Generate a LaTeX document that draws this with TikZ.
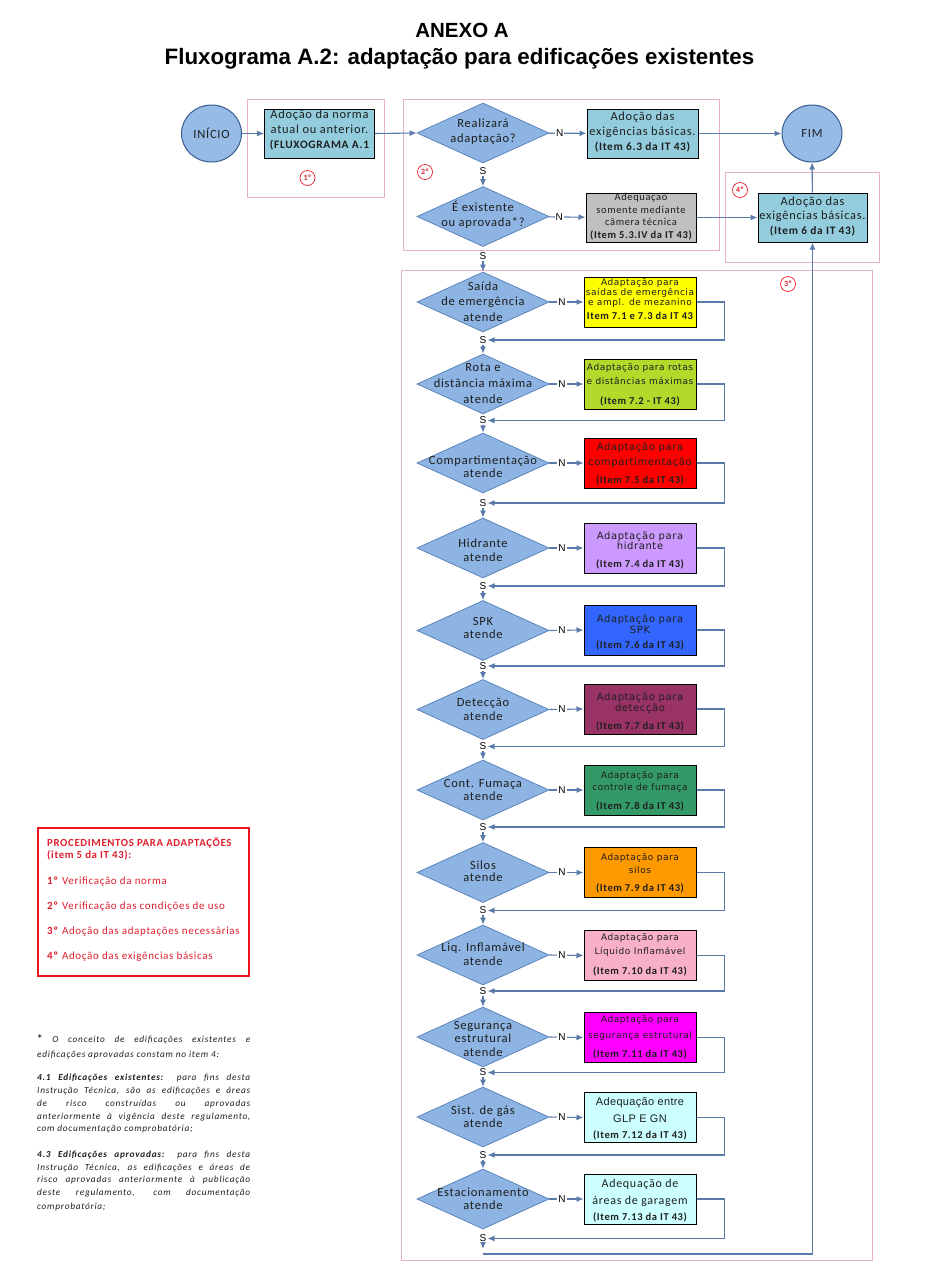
\documentclass[tikz,border=0pt]{standalone}
\usepackage{fontspec}
\setmainfont{Carlito}
\newfontfamily\cfont[LetterSpace=6]{Carlito}
\newfontfamily\vfont[LetterSpace=6]{DejaVu Sans}
\newfontfamily\afont[LetterSpace=3]{Liberation Sans}
\newfontfamily\tfont{Liberation Sans}
\newfontfamily\nfont[LetterSpace=8]{Carlito}
\usetikzlibrary{shapes.geometric,arrows.meta}
\definecolor{conncol}{HTML}{5A7BA9}
\definecolor{diafill}{HTML}{8DB4E2}
\definecolor{diaborder}{HTML}{5A84BD}
\definecolor{termfill}{HTML}{95BBE6}
\definecolor{termborder}{HTML}{3B5B8F}
\definecolor{topblue}{HTML}{93CDDD}
\definecolor{graybox}{HTML}{C0C0C0}
\definecolor{pinkcol}{HTML}{E8B0C8}
\definecolor{redcol}{HTML}{E0202F}
\definecolor{legred}{HTML}{E8141E}
\definecolor{txtcol}{HTML}{1E1E1E}
\definecolor{cA}{HTML}{FFFF00}
\definecolor{cB}{HTML}{B3D92B}
\definecolor{cC}{HTML}{FF0000}
\definecolor{cD}{HTML}{CC99FF}
\definecolor{cE}{HTML}{3366FF}
\definecolor{cF}{HTML}{993366}
\definecolor{cG}{HTML}{339966}
\definecolor{cH}{HTML}{FF9900}
\definecolor{cI}{HTML}{F8B0C8}
\definecolor{cJ}{HTML}{FF00FF}
\definecolor{cK}{HTML}{CCFFFF}
\newcommand\myfC{\cfont\fontsize{12.4}{15}\selectfont}
\newcommand\myfCs{\cfont\fontsize{10.5}{12}\selectfont}
\newcommand\myfCb{\cfont\bfseries\fontsize{11.4}{13}\selectfont}
\newcommand\myfB{\cfont\bfseries\fontsize{10.5}{12}\selectfont}
\newcommand\myfV{\vfont\fontsize{9}{10}\selectfont}
\newcommand\myfVb{\vfont\fontsize{10}{11}\selectfont}
\newcommand\myfA{\afont\fontsize{11}{13}\selectfont}
\newcommand\myfN{\nfont\itshape\fontsize{9.3}{12}\selectfont}
\newcommand\myfL{\cfont\fontsize{11}{13}\selectfont}
\newcommand\myfLb{\cfont\bfseries\fontsize{10.8}{12}\selectfont}
\newcommand\myfD[1]{\cfont\fontsize{12.5}{#1}\selectfont}
\newcommand\txtline[4]{\node[tl,font=#1] (#2) at (#3) {#4};}
\tikzset{
 conn/.style={draw=conncol, line width=1.1pt, -{Latex[length=7pt,width=6pt]}},
 dia/.style={diamond, draw=diaborder, fill=diafill, line width=0.8pt, minimum width=132pt, minimum height=60pt, inner sep=0pt},
 dtxt/.style={align=center, inner sep=0pt, text=txtcol},
 bx/.style={rectangle, draw=black, line width=1pt, minimum width=112pt, minimum height=50pt, inner sep=0pt},
 frame/.style={draw=pinkcol, line width=1pt},
 tl/.style={anchor=mid, inner sep=0pt, text=txtcol},
 lbl/.style={font=\afont\fontsize{10}{12}\selectfont, fill=white, inner sep=1pt, text=black},
 stp/.style={circle, draw=redcol, line width=0.7pt, minimum size=15pt, inner sep=0pt, text=redcol, font=\bfseries\fontsize{8}{8}\selectfont},
 term/.style={ellipse, draw=termborder, fill=termfill, line width=1pt, minimum width=60pt, minimum height=57pt, inner sep=0pt, text=txtcol, font=\cfont\fontsize{12.5}{14}\selectfont},
 leg/.style={anchor=mid west, inner sep=0pt, text=redcol},
 fn/.style={anchor=mid west, inner sep=0pt, text=txtcol, font=\myfN},
}
\begin{document}
\begin{tikzpicture}[x=1pt,y=-1pt]
\fill[white] (0,0) rectangle (951,1277);
\useasboundingbox (0,0) rectangle (951,1277);

% title
\node[anchor=base, inner sep=0, font=\tfont\bfseries\fontsize{20.5}{24}\selectfont] (t1) at (462,37.5) {ANEXO A};
\node[anchor=base, inner sep=0, font=\tfont\bfseries\fontsize{22.3}{26}\selectfont] (t2) at (459.5,64) {Fluxograma A.2: adaptação para edificações existentes};

% frames
\draw[frame] (247.5,99) rectangle (384.5,197);
\draw[frame] (403,99) rectangle (719,250.5);
\draw[frame] (725,172.5) rectangle (879,262);
\draw[frame] (401,270.5) rectangle (872,1260.5);
\node[stp] (st1) at (307.5,178) {1º};
\node[stp] (st2) at (425,172) {2º};
\node[stp] (st4) at (740,190) {4º};
\node[stp] (st3) at (788,284) {3º};

% top row
\node[term] (ini) at (211.5,133.5) {INÍCIO};
\node[term] (fim) at (812,133.5) {FIM};
\node[bx, fill=topblue, minimum width=110pt, minimum height=49pt] (norma) at (319.5,133.5) {};
\txtline{\myfC}{norma1}{319.5,116.5}{Adoção da norma}
\txtline{\myfC}{norma2}{319.5,131}{atual ou anterior.}
\txtline{\myfCb}{norma3}{319.5,146.5}{(FLUXOGRAMA A.1}
\node[dia] (d1) at (483,133) {};
\node[dtxt, font=\myfD{15}] (d1t) at (483,131.5) {Realizará\\adaptação?};
\node[bx, fill=topblue, minimum width=111pt, minimum height=49pt] (b63) at (642.5,133.5) {};
\txtline{\myfC}{b631}{642.5,118.5}{Adoção das}
\txtline{\myfC}{b632}{642.5,133.5}{exigências básicas.}
\txtline{\myfCb}{b633}{642.5,148.5}{(Item 6.3 da IT 43)}
\node[lbl] (s0a) at (483,171) {S};
\node[dia] (d2) at (483,216.5) {};
\node[dtxt, font=\myfD{15}] (d2t) at (483,214.5) {É existente\\ou aprovada*?};
\node[bx, fill=graybox, minimum width=110pt, minimum height=49pt] (gray) at (641,217.5) {};
\txtline{\myfCs}{gray1}{641,198}{Adequação}
\txtline{\myfCs}{gray2}{641,211}{somente mediante}
\txtline{\myfCs}{gray3}{641,223.5}{câmera técnica}
\txtline{\myfB}{gray4}{641,236}{(Item 5.3.IV da IT 43)}
\node[bx, fill=topblue, minimum width=109pt, minimum height=49pt] (item6) at (812.5,217.5) {};
\txtline{\myfC}{item61}{812.5,203}{Adoção das}
\txtline{\myfC}{item62}{812.5,217.5}{exigências básicas.}
\txtline{\myfCb}{item63}{812.5,232.5}{(Item 6 da IT 43)}
\node[lbl] (s0b) at (483,256) {S};

\draw[conn] (ini) -- (norma);
\draw[conn] (norma.east) -- (d1.west);
\draw[conn] (d1) -- node[lbl, pos=0.29] (n0a) {N} (b63);
\draw[conn] (b63) -- (fim);
\draw[conn] (s0a.south) -- (d2.north);
\draw[conn] (d2) -- node[lbl, pos=0.29] (n0b) {N} (gray);
\draw[conn] (gray.east) -- (item6.west);
\draw[conn] (item6) -- (fim);

% chain
\node[dia] (q1) at (483,302) {};
\node[dtxt, font=\myfD{15.5}] (q1t) at (483,301.5) {Saída\\de emergência\\atende};
\node[dia] (q2) at (483,384) {};
\node[dtxt, font=\myfD{16}] (q2t) at (483,384) {Rota e\\distância máxima\\atende};
\node[dia] (q3) at (483,463) {};
\node[dtxt, font=\myfD{13.5}] (q3t) at (483,466.5) {Compartimentação\\atende};
\node[dia] (q4) at (483,548) {};
\node[dtxt, font=\myfD{14}] (q4t) at (483,550) {Hidrante\\atende};
\node[dia] (q5) at (483,630.5) {};
\node[dtxt, font=\myfD{13}] (q5t) at (483,628) {SPK\\atende};
\node[dia] (q6) at (483,709.5) {};
\node[dtxt, font=\myfD{14}] (q6t) at (483,709) {Detecção\\atende};
\node[dia] (q7) at (483,790) {};
\node[dtxt, font=\myfD{13}] (q7t) at (483,789.5) {Cont. Fumaça\\atende};
\node[dia] (q8) at (483,872.5) {};
\node[dtxt, font=\myfD{12.5}] (q8t) at (483,871) {Silos\\atende};
\node[dia] (q9) at (483,955) {};
\node[dtxt, font=\myfD{14}] (q9t) at (483,954) {Liq. Inflamável\\atende};
\node[dia] (q10) at (483,1037) {};
\node[dtxt, font=\myfD{13.5}] (q10t) at (483,1038.5) {Segurança\\estrutural\\atende};
\node[dia] (q11) at (483,1117) {};
\node[dtxt, font=\myfD{13}] (q11t) at (483,1116.5) {Sist. de gás\\atende};
\node[dia] (q12) at (483,1199) {};
\node[dtxt, font=\myfD{12.5}] (q12t) at (483,1198.5) {Estacionamento\\atende};

\node[bx, fill=cA] (a1) at (640,302) {};
\txtline{\myfV}{a1a}{640,283}{Adaptação para}
\txtline{\myfV}{a1b}{640,293}{saídas de emergência}
\txtline{\myfV}{a1c}{640,303}{e ampl. de mezanino}
\txtline{\myfB}{a1d}{640,317}{Item 7.1 e 7.3 da IT 43}
\node[bx, fill=cB] (a2) at (640,384) {};
\txtline{\myfV}{a2a}{640,368}{Adaptação para rotas}
\txtline{\myfV}{a2b}{640,382}{e distâncias máximas}
\txtline{\myfB}{a2c}{640,402}{(Item 7.2 - IT 43)}
\node[bx, fill=cC] (a3) at (640,463) {};
\txtline{\myfVb}{a3a}{640,448}{Adaptação para}
\txtline{\myfVb}{a3b}{640,463}{compartimentação}
\txtline{\myfB}{a3c}{640,481}{(Item 7.5 da IT 43)}
\node[bx, fill=cD] (a4) at (640,548) {};
\txtline{\myfVb}{a4a}{640,537}{Adaptação para}
\txtline{\myfVb}{a4b}{640,547}{hidrante}
\txtline{\myfB}{a4c}{640,565}{(Item 7.4 da IT 43)}
\node[bx, fill=cE] (a5) at (640,630) {};
\txtline{\myfVb}{a5a}{640,620}{Adaptação para}
\txtline{\myfVb}{a5b}{640,631}{SPK}
\txtline{\myfB}{a5c}{640,646}{(Item 7.6 da IT 43)}
\node[bx, fill=cF] (a6) at (640,709) {};
\txtline{\myfVb}{a6a}{640,698}{Adaptação para}
\txtline{\myfVb}{a6b}{640,709}{detecção}
\txtline{\myfB}{a6c}{640,727}{(Item 7.7 da IT 43)}
\node[bx, fill=cG] (a7) at (640,790) {};
\txtline{\myfV}{a7a}{640,776}{Adaptação para}
\txtline{\myfV}{a7b}{640,788}{controle de fumaça}
\txtline{\myfB}{a7c}{640,807}{(Item 7.8 da IT 43)}
\node[bx, fill=cH] (a8) at (640,872.5) {};
\txtline{\myfV}{a8a}{640,858}{Adaptação para}
\txtline{\myfV}{a8b}{640,871}{silos}
\txtline{\myfB}{a8c}{640,889}{(Item 7.9 da IT 43)}
\node[bx, fill=cI] (a9) at (640,955.5) {};
\txtline{\myfV}{a9a}{640,938}{Adaptação para}
\txtline{\myfV}{a9b}{640,952}{Líquido Inflamável}
\txtline{\myfB}{a9c}{640,972}{(Item 7.10 da IT 43)}
\node[bx, fill=cJ] (a10) at (640,1037.5) {};
\txtline{\myfV}{a10a}{640,1020}{Adaptação para}
\txtline{\myfV}{a10b}{640,1036}{segurança estrutural}
\txtline{\myfB}{a10c}{640,1055}{(Item 7.11 da IT 43)}
\node[bx, fill=cK] (a11) at (640,1117.5) {};
\txtline{\myfA}{a11a}{640,1103}{Adequação entre}
\txtline{\myfA}{a11b}{640,1120}{GLP E GN}
\txtline{\myfB}{a11c}{640,1136}{(Item 7.12 da IT 43)}
\node[bx, fill=cK] (a12) at (640,1199) {};
\txtline{\cfont\fontsize{12}{14}\selectfont}{a12a}{640,1185}{Adequação de}
\txtline{\cfont\fontsize{12}{14}\selectfont}{a12b}{640,1202}{áreas de garagem}
\txtline{\myfB}{a12c}{640,1218}{(Item 7.13 da IT 43)}

\node[lbl] (s1) at (483,340) {S};
\node[lbl] (s2) at (483,420.5) {S};
\node[lbl] (s3) at (483,503) {S};
\node[lbl] (s4) at (483,586) {S};
\node[lbl] (s5) at (483,666) {S};
\node[lbl] (s6) at (483,746.5) {S};
\node[lbl] (s7) at (483,827) {S};
\node[lbl] (s8) at (483,910.5) {S};
\node[lbl] (s9) at (483,991) {S};
\node[lbl] (s10) at (483,1072.5) {S};
\node[lbl] (s11) at (483,1155) {S};
\node[lbl] (s12) at (483,1238.5) {S};

\draw[conn] (s0b.south) -- (q1.north);
\foreach \i/\j in {1/2,2/3,3/4,4/5,5/6,6/7,7/8,8/9,9/10,10/11,11/12}{
  \draw[conn] (s\i.south) -- (q\j.north);
}
\foreach \i in {1,...,12}{
  \draw[conn] (q\i.east) -- node[lbl, pos=0.37] (n\i) {N} (a\i.west);
  \draw[conn] (a\i.east) -- ++(28,0) |- (s\i.east);
}
\coordinate (fa) at (483,1249);
\coordinate (fb) at (483,1254);
\draw[conn] (s12.south) -- (fa);
\draw[conn] (fb) -| (item6.south);

% legend
\node[draw=legred, line width=2.2pt, minimum width=211pt, minimum height=148pt, inner sep=0pt] (legend) at (143.5,902) {};
\node[leg, font=\myfLb] (lg1) at (47,844) {PROCEDIMENTOS PARA ADAPTAÇÕES};
\node[leg, font=\myfLb] (lg2) at (47,856.5) {(item 5 da IT 43):};
\node[leg, font=\myfL] (lg3) at (47,882) {\textbf{1º} Verificação da norma};
\node[leg, font=\myfL] (lg4) at (47,907) {\textbf{2º} Verificação das condições de uso};
\node[leg, font=\myfL] (lg5) at (47,932) {\textbf{3º} Adoção das adaptações necessárias};
\node[leg, font=\myfL] (lg6) at (47,957) {\textbf{4º} Adoção das exigências básicas};

% footnote
\node[fn] (fn1) at (37,1040) {\makebox[213pt][s]{{\bfseries\upshape\fontsize{11}{12}\selectfont *} O conceito de edificações existentes e}};
\node[fn] (fn2) at (37,1055) {edificações aprovadas constam no item 4:};
\node[fn] (fn3) at (37,1078) {\makebox[213pt][s]{\textbf{4.1 Edificações existentes:} para fins desta}};
\node[fn] (fn4) at (37,1091) {\makebox[213pt][s]{Instrução Técnica, são as edificações e áreas}};
\node[fn] (fn5) at (37,1104) {\makebox[213pt][s]{de risco construídas ou aprovadas}};
\node[fn] (fn6) at (37,1117) {\makebox[213pt][s]{anteriormente à vigência deste regulamento,}};
\node[fn] (fn7) at (37,1129) {com documentação comprobatória;};
\node[fn] (fn8) at (37,1155) {\makebox[213pt][s]{\textbf{4.3 Edificações aprovadas:} para fins desta}};
\node[fn] (fn9) at (37,1168) {\makebox[213pt][s]{Instrução Técnica, as edificações e áreas de}};
\node[fn] (fn10) at (37,1180) {\makebox[213pt][s]{risco aprovadas anteriormente à publicação}};
\node[fn] (fn11) at (37,1193) {\makebox[213pt][s]{deste regulamento, com documentação}};
\node[fn] (fn12) at (37,1207) {comprobatória;};
\end{tikzpicture}
\end{document}
